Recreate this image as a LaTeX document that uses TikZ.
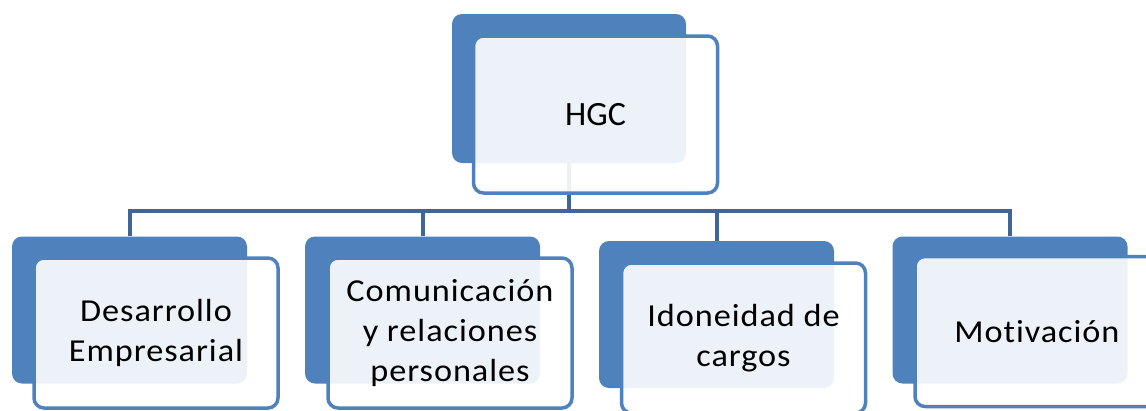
\documentclass[tikz,border=0pt]{standalone}
\usepackage{fontspec}
\setmainfont{Carlito}[Ligatures=NoCommon]
\newfontfamily\textoAncho{Carlito}[FakeStretch=1.07,LetterSpace=3,Ligatures=NoCommon]
\usepackage{tikz}
\definecolor{azul}{HTML}{4F81BD}
\definecolor{azulOscuro}{HTML}{3F6699}
\tikzset{
fondo/.style={
 rectangle, 
 rounded corners=10pt, 
 fill=azul, 
 draw=none, 
 minimum width=235pt, 
 minimum height=147pt
 },
frente/.style={
 rectangle, 
 rounded corners=10pt, 
 draw=azul, 
 line width=3.5pt, 
 fill=white, 
 fill opacity=0.9, 
 text opacity=1, 
 align=center, 
 minimum width=244pt, 
 minimum height=150pt, 
 font=\textoAncho\fontsize{32}{40}\selectfont
 },
conector/.style={
 draw=azulOscuro, 
 line width=4pt
 }
}

\begin{document}
\begin{tikzpicture}[x=1pt,y=-1pt]
\useasboundingbox (0,0) rectangle (1146,410);
\coordinate (barra) at (569,211);
\node[fondo,minimum width=234pt,minimum height=149pt] (hgcFondo) at (569,88.5) {};
\node[fondo] (desFondo) at (129.5,310) {};
\node[fondo] (comFondo) at (422.5,310) {};
\node[fondo] (idoFondo) at (716.5,314.5) {};
\node[fondo] (motFondo) at (1010,310) {};
\foreach \n in {des,com,ido,mot}
 \draw[conector] (hgcFondo.south) -- (barra) -| (\n Fondo.north);
\node[frente,minimum height=157pt,font=\rmfamily\fontsize{34}{40}\selectfont] (hgc) at (595.5,114.5) {HGC};
\node[frente] (des) at (156,333) {Desarrollo\\Empresarial};
\node[frente] (com) at (450,333) {Comunicación\\y relaciones\\personales};
\node[frente] (ido) at (743.5,338) {Idoneidad de\\cargos};
\node[frente] (mot) at (1037,331.5) {Motivación};
\end{tikzpicture}
\end{document}
